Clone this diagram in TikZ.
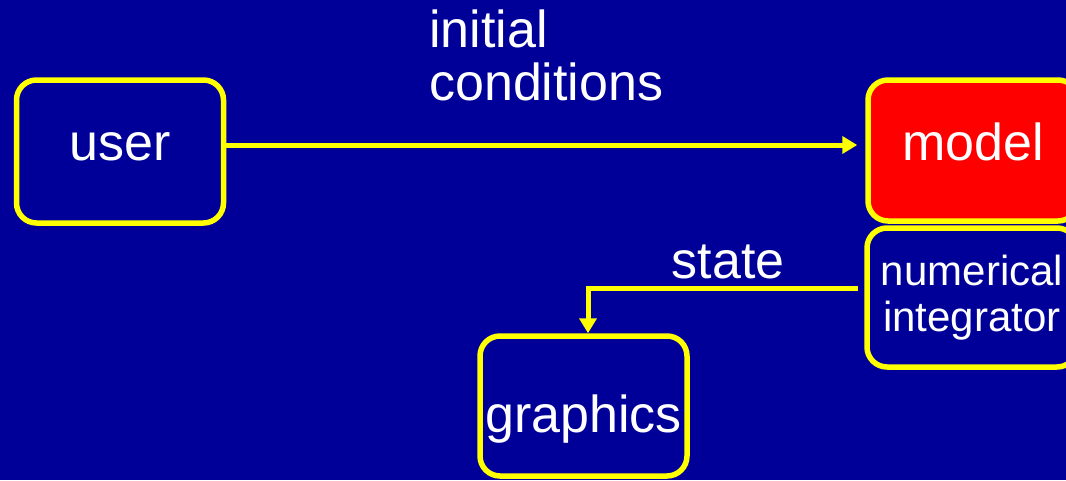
\documentclass[tikz,border=0pt]{standalone}
\usepackage{fontspec}
\setmainfont{Liberation Sans}
\usetikzlibrary{arrows.meta}
\definecolor{bg}{RGB}{0,0,153}
\definecolor{ylw}{RGB}{255,255,0}
\definecolor{rd}{RGB}{255,0,0}
\begin{document}
\begin{tikzpicture}[x=1pt,y=-1pt,
  box/.style={draw=ylw, line width=5.5pt, rounded corners=20pt, fill=bg,
    text=white, inner sep=0pt, font=\fontsize{52}{60}\selectfont},
  arr/.style={draw=ylw, line width=5pt, -{Triangle[length=15pt,width=17pt]}},
  lbl/.style={text=white, inner sep=0pt, font=\fontsize{52}{53}\selectfont}]
\fill[bg] (0,0) rectangle (1066,480);
\useasboundingbox (0,0) rectangle (1066,480);
\clip (0,0) rectangle (1066,480);
\node[box, minimum width=207pt, minimum height=143pt, text height=17pt, text depth=0pt] (user) at (120,151.5) {user};
\node[box, fill=rd, minimum width=210pt, minimum height=141pt, text height=19pt, text depth=0pt] (model) at (973,150.5) {model};
\node[box, minimum width=210pt, minimum height=139pt, align=center, font=\fontsize{42}{46}\selectfont] (integ) at (972,297.5) {numerical\\integrator};
\node[box, minimum width=207pt, minimum height=140pt, text height=52pt, text depth=0pt] (graphics) at (583.5,406) {graphics};
\coordinate (gin) at ([xshift=4.5pt]graphics.north);
\draw[arr, shorten >=8pt] ([yshift=6.5pt]user.east) -- ([yshift=6.5pt]user.east -| model.west);
\draw[arr, shorten <=6pt] ([yshift=9.5pt]integ.west) -| (gin);
\node[lbl, align=left, anchor=base west] (ic) at (429,100) {initial\\conditions};
\node[lbl, anchor=base] (st) at (728,278) {state};
\end{tikzpicture}
\end{document}
